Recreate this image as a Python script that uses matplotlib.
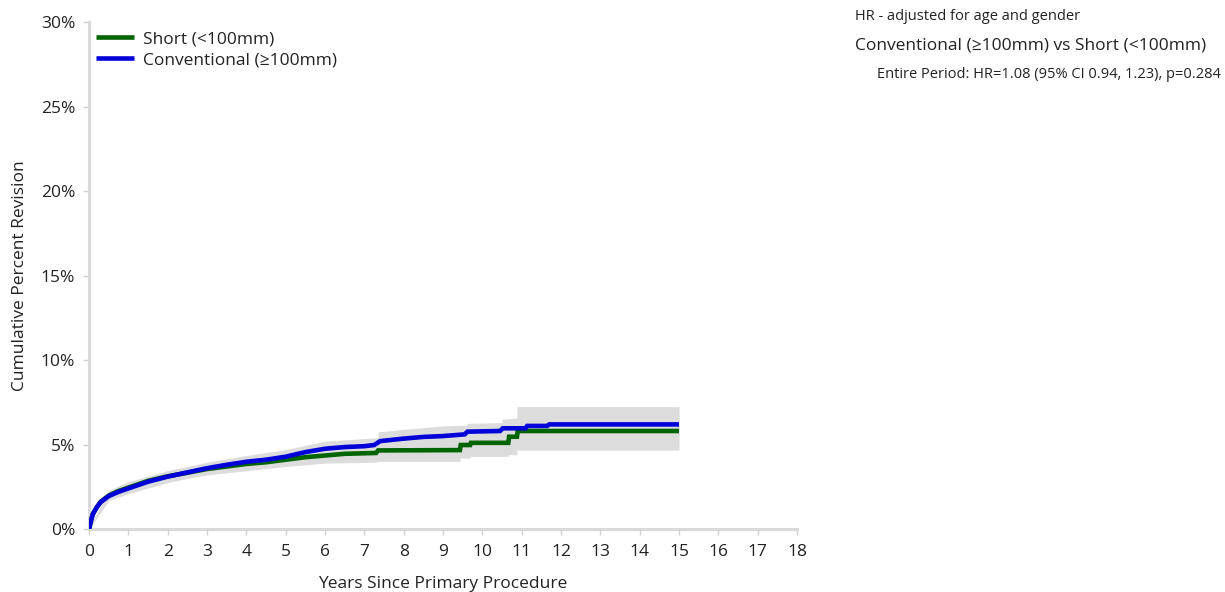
import matplotlib
matplotlib.use("Agg")
import matplotlib.pyplot as plt

plt.rcParams['font.family'] = ['Open Sans', 'DejaVu Sans']

# ---- data (years, cumulative percent revision) ----
conv_t = [0, 0.05, 0.1, 0.2, 0.3, 0.5, 0.75, 1.0, 1.5, 2.0, 2.5, 3.0, 3.5, 4.0, 4.5,
          5.0, 5.5, 6.0, 6.5, 7.0, 7.25, 7.4, 8.0, 8.5, 9.0, 9.55, 9.62, 10.45, 10.52,
          11.1, 11.14, 11.65, 11.7, 15.0]
conv_v = [0, 0.5, 0.9, 1.3, 1.6, 1.95, 2.2, 2.4, 2.8, 3.1, 3.35, 3.6, 3.8, 3.98, 4.1,
          4.28, 4.55, 4.75, 4.85, 4.9, 4.97, 5.2, 5.35, 5.45, 5.5, 5.6, 5.76, 5.8, 5.96,
          5.96, 6.1, 6.1, 6.19, 6.19]

short_t = [0, 0.05, 0.1, 0.2, 0.3, 0.5, 0.75, 1.0, 1.5, 2.0, 2.5, 3.0, 3.5, 4.0, 4.5,
           5.0, 5.5, 6.0, 6.5, 7.3, 7.35, 9.43, 9.45, 9.69, 9.71, 10.66, 10.68,
           10.88, 10.9, 15.0]
short_v = [0, 0.5, 0.9, 1.3, 1.62, 1.98, 2.25, 2.45, 2.85, 3.12, 3.33, 3.55, 3.7, 3.85,
           3.95, 4.1, 4.25, 4.35, 4.45, 4.5, 4.65, 4.67, 4.97, 4.97, 5.1, 5.1, 5.46,
           5.46, 5.8, 5.8]

conv_ci_t = [0, 0.5, 1, 2, 3, 4, 5, 6, 7, 7.35, 7.35, 8, 9, 9.6, 9.6, 10.5, 10.5,
             11.1, 11.67, 15]
conv_ci_lo = [0, 1.7, 2.1, 2.75, 3.25, 3.6, 3.85, 4.2, 4.3, 4.35, 4.55, 4.7, 4.8, 4.9,
              5.05, 5.1, 5.25, 5.35, 5.5, 5.5]
conv_ci_hi = [0, 2.25, 2.75, 3.45, 3.95, 4.35, 4.7, 5.2, 5.35, 5.4, 5.75, 5.9, 6.1,
              6.15, 6.25, 6.3, 6.5, 6.6, 6.75, 6.75]

short_ci_t = [0, 0.5, 1, 2, 3, 4, 5, 6, 7.3, 7.35, 9.43, 9.43, 9.69, 9.69, 10.66,
              10.66, 10.88, 10.88, 15]
short_ci_lo = [0, 1.7, 2.1, 2.8, 3.2, 3.45, 3.7, 3.9, 3.95, 4.0, 4.0, 4.2, 4.2,
               4.3, 4.3, 4.4, 4.4, 4.67, 4.67]
short_ci_hi = [0, 2.3, 2.8, 3.45, 3.9, 4.2, 4.5, 4.8, 4.95, 5.1, 5.2, 5.6, 5.6,
               5.75, 5.9, 6.4, 6.57, 7.24, 7.24]

x_ticks = list(range(0, 19))
y_ticks = [0, 5, 10, 15, 20, 25, 30]
y_tick_labels = ["0%", "5%", "10%", "15%", "20%", "25%", "30%"]

series_names = ["Short (<100mm)", "Conventional (\u2265100mm)"]

hr_title = "HR - adjusted for age and gender"
hr_comparison = "Conventional (\u2265100mm) vs Short (<100mm)"
hr_detail = "Entire Period: HR=1.08 (95% CI 0.94, 1.23), p=0.284"

# ---- figure ----
fig = plt.figure(figsize=(12.25, 5.92), dpi=100)
ax = fig.add_axes([0.0727, 0.1064, 0.5779, 0.8564])

band_color = "#dcdcdc"
ax.fill_between(short_ci_t, short_ci_lo, short_ci_hi, color=band_color, lw=0, zorder=1)
ax.fill_between(conv_ci_t, conv_ci_lo, conv_ci_hi, color=band_color, lw=0, zorder=1)

green = "#006400"
blue = "#0000d8"
ax.plot(short_t, short_v, color=green, lw=3.3, zorder=3, label=series_names[0],
        solid_joinstyle='miter', solid_capstyle='butt')
ax.plot(conv_t, conv_v, color=blue, lw=3.3, zorder=4, label=series_names[1],
        solid_joinstyle='miter', solid_capstyle='butt')

ax.set_xlim(0, 18)
ax.set_ylim(0, 30)
ax.set_xticks(x_ticks)
ax.set_xticklabels([str(v) for v in x_ticks])
ax.set_yticks(y_ticks)
ax.set_yticklabels(y_tick_labels)

for s in ["top", "right"]:
    ax.spines[s].set_visible(False)
for s in ["left", "bottom"]:
    ax.spines[s].set_color("#d9d9d9")
    ax.spines[s].set_linewidth(2.2)
ax.tick_params(axis="both", colors="#d0d0d0", labelcolor="#222222", labelsize=12.5,
               length=4, width=1)
ax.tick_params(axis="x", pad=7)
ax.tick_params(axis="y", pad=6)

ax.set_xlabel("Years Since Primary Procedure", fontsize=12.5, color="#222222", labelpad=11)
ax.set_ylabel("Cumulative Percent Revision", fontsize=12.5, color="#222222", labelpad=9)

leg = ax.legend(loc="upper left", frameon=False, fontsize=12.5, handlelength=2.2,
                handletextpad=0.5, borderaxespad=0.0, labelspacing=0.3,
                bbox_to_anchor=(0.0, 0.996))
for t in leg.get_texts():
    t.set_color("#222222")

fig.text(855 / 1225, 1 - 16 / 592, hr_title, fontsize=10.5, color="#222222",
         va="center", ha="left")
fig.text(855 / 1225, 1 - 46 / 592, hr_comparison, fontsize=12.5, color="#222222",
         va="center", ha="left")
fig.text(877 / 1225, 1 - 75 / 592, hr_detail, fontsize=10.5, color="#222222",
         va="center", ha="left")

fig.savefig("out.png", dpi=100)
